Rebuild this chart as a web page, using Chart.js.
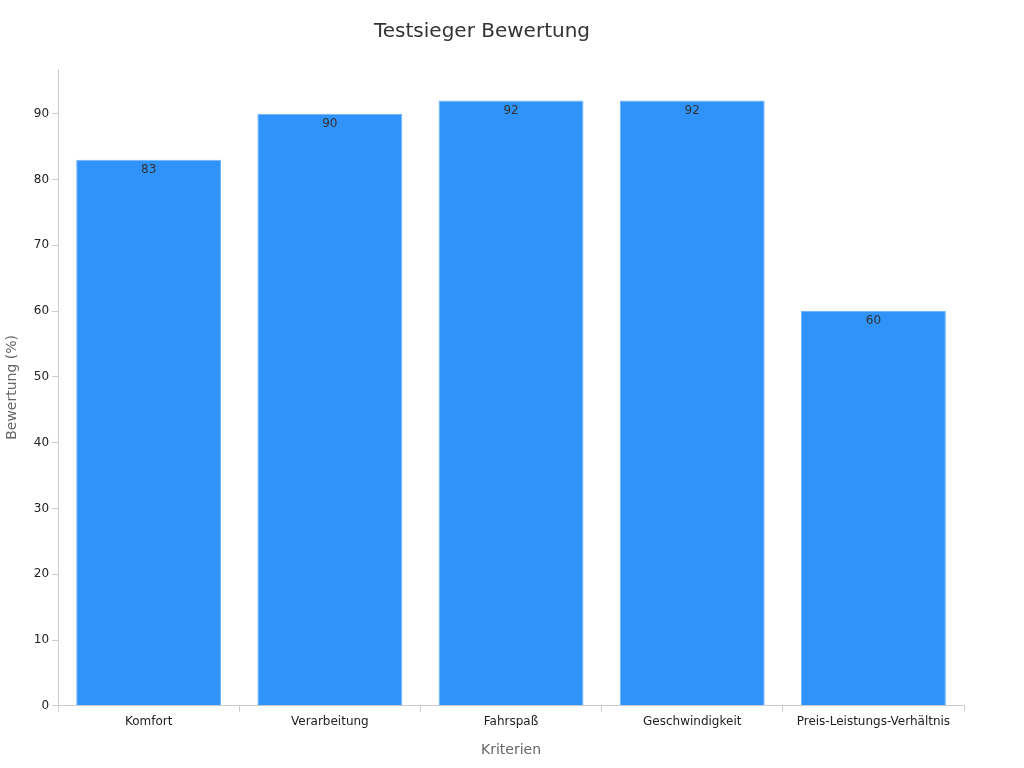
<!DOCTYPE html>
<html><head><meta charset="utf-8">
<script src="https://cdn.jsdelivr.net/npm/chart.js@4"></script>
<style>html,body{margin:0;background:#fff}#w{width:1024px;height:768px}</style>
</head><body><div id="w"><canvas id="c"></canvas></div>
<script>
const categories = ["Komfort","Verarbeitung","Fahrspaß","Geschwindigkeit","Preis-Leistungs-Verhältnis"];
const values = [83,90,92,92,60];
Chart.defaults.font.family = "DejaVu Sans";
const labelPlugin = {
  id:'lbl',
  afterDatasetsDraw(chart){
    const ctx = chart.ctx;
    const meta = chart.getDatasetMeta(0);
    ctx.save();
    ctx.font = '12px "DejaVu Sans"';
    ctx.fillStyle = '#333';
    ctx.textAlign = 'center';
    ctx.textBaseline = 'top';
    meta.data.forEach((b,i)=>{ ctx.fillText(String(values[i]), b.x, b.y+4); });
    ctx.restore();
  }
};
new Chart(document.getElementById('c'),{
  type:'bar',
  data:{labels:categories,datasets:[{data:values,backgroundColor:'#2f93f9',borderColor:'#6fb3fb',borderWidth:1,barPercentage:0.8,categoryPercentage:1}]},
  options:{
    responsive:true,maintainAspectRatio:false,animation:false,
    layout:{padding:{left:0,right:60,top:10,bottom:5}},
    plugins:{legend:{display:false},tooltip:{enabled:false},
      title:{display:true,text:'Testsieger Bewertung',color:'#333',font:{size:20,weight:'normal'},padding:{top:10,bottom:25}}},
    scales:{
      x:{grid:{display:true,drawOnChartArea:false,tickLength:6,color:'#ccc'},border:{color:'#ccc'},
        ticks:{color:'#222',font:{size:12}},
        title:{display:true,text:'Kriterien',color:'#666',font:{size:14},padding:{top:10}}},
      y:{min:0,max:96.8,grid:{display:true,drawOnChartArea:false,tickLength:6,color:'#ccc'},border:{color:'#ccc'},
        ticks:{stepSize:10,color:'#222',font:{size:12}},
        afterBuildTicks(s){s.ticks=s.ticks.filter(t=>t.value%10===0);},
        title:{display:true,text:'Bewertung (%)',color:'#666',font:{size:14},padding:{bottom:10}}}
    }
  },
  plugins:[labelPlugin]
});
</script></body></html>
